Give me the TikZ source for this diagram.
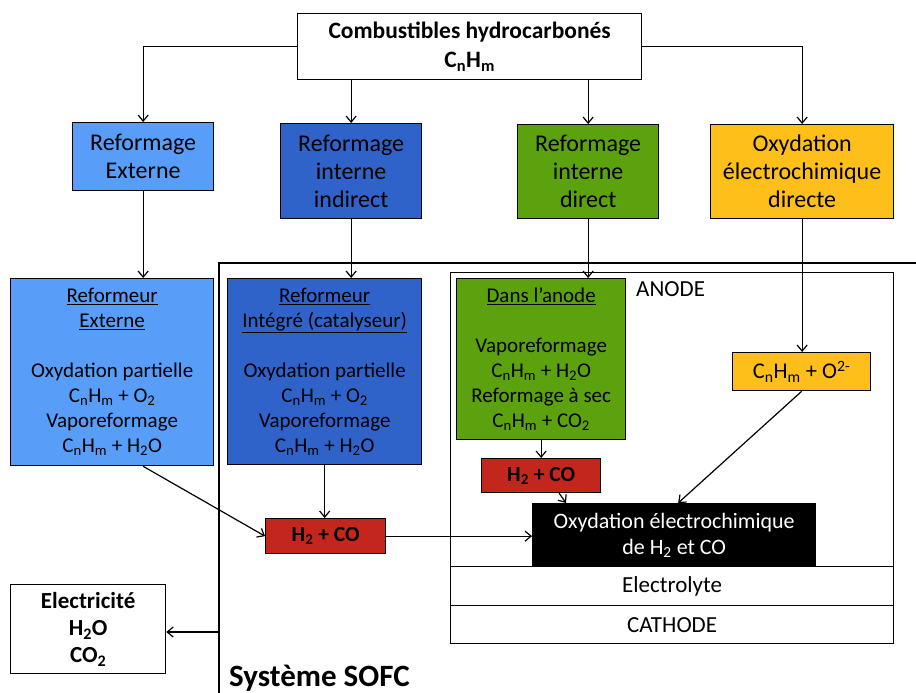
\documentclass[tikz,border=0pt]{standalone}
\usepackage{fontspec}
\setmainfont{Carlito}
\usetikzlibrary{arrows.meta,calc}
\definecolor{lblue}{RGB}{88,158,248}
\definecolor{dblue}{RGB}{47,99,201}
\definecolor{dgreen}{RGB}{91,162,14}
\definecolor{dyellow}{RGB}{255,191,26}
\definecolor{dred}{RGB}{195,38,28}
\newcommand\sbs[1]{\textsubscript{#1}}
\newcommand\sps[1]{\textsuperscript{#1}}
\begin{document}
\begin{tikzpicture}[x=1pt,y=-1pt,
  box/.style={draw=black, line width=1.3pt, anchor=north west, inner sep=0pt, align=center, text=black},
  bigtxt/.style={font=\fontsize{24}{28}\selectfont},
  midtxt/.style={font=\fontsize{21}{25}\selectfont},
  redbox/.style={box, fill=dred, font=\bfseries\fontsize{21.5}{24}\selectfont},
  arr/.style={-{Straight Barb[length=6pt,width=10pt]}, line width=1.2pt},
  frame/.style={line width=2.2pt}]
\useasboundingbox (0,0) rectangle (916,693);

% top
\node[box, minimum width=344pt, minimum height=66pt, font=\bfseries\fontsize{23.5}{29}\selectfont] (top) at (297,13)
  {Combustibles hydrocarbonés\\C\sbs{n}H\sbs{m}};

% row 1
\node[box, bigtxt, fill=lblue, minimum width=141pt, minimum height=68pt] (re) at (72,122) {Reformage\\Externe};
\node[box, bigtxt, fill=dblue, minimum width=141pt, minimum height=95pt] (ii) at (280,123) {Reformage\\interne\\indirect};
\node[box, bigtxt, fill=dgreen, minimum width=141pt, minimum height=94pt] (rd) at (517,124) {Reformage\\interne\\direct};
\node[box, bigtxt, fill=dyellow, minimum width=183pt, minimum height=94pt] (ox) at (710,124) {Oxydation\\électrochimique\\directe};

% SOFC frame
\coordinate (fl) at (219,263);
\coordinate (fr) at (916,263);
\coordinate (fb) at (219,693);
\coordinate (frameout) at (219,632);
\draw[frame] (fr) -- (fl) -- (fb);

% anode stack
\node[box, minimum width=443pt, minimum height=294pt] (anode) at (450,272) {};
\node[box, font=\fontsize{23}{27}\selectfont, minimum width=443pt, minimum height=39pt] (elec) at (450,566) {Electrolyte};
\node[box, font=\fontsize{23}{27}\selectfont, minimum width=443pt, minimum height=38pt] (cath) at (450,605) {CATHODE};
\node[anchor=north west, inner sep=0pt, font=\fontsize{23}{27}\selectfont] (anlab) at (636,281) {ANODE};

% row 2
\node[box, midtxt, fill=lblue, minimum width=203pt, minimum height=187pt] (rext) at (10,278)
  {\underline{Reformeur}\\\underline{Externe}\\[25pt]Oxydation partielle\\C\sbs{n}H\sbs{m} + O\sbs{2}\\Vaporeformage\\C\sbs{n}H\sbs{m} + H\sbs{2}O};
\node[box, midtxt, fill=dblue, minimum width=194pt, minimum height=186pt] (rint) at (227,278)
  {\underline{Reformeur}\\\underline{Intégré (catalyseur)}\\[25pt]Oxydation partielle\\C\sbs{n}H\sbs{m} + O\sbs{2}\\Vaporeformage\\C\sbs{n}H\sbs{m} + H\sbs{2}O};
\node[box, midtxt, fill=dgreen, minimum width=169pt, minimum height=161pt] (dan) at (456,278)
  {\underline{Dans l’anode}\\[25pt]Vaporeformage\\C\sbs{n}H\sbs{m} + H\sbs{2}O\\Reformage à sec\\C\sbs{n}H\sbs{m} + CO\sbs{2}};
\node[box, font=\fontsize{22.5}{26}\selectfont, fill=dyellow, minimum width=138pt, minimum height=38pt] (oxc) at (732,352)
  {C\sbs{n}H\sbs{m} + O\sps{2-}};

\node[redbox, minimum width=119pt, minimum height=34pt] (red2) at (481,458) {H\sbs{2} + CO};
\node[redbox, minimum width=120pt, minimum height=35pt] (red1) at (265,518) {H\sbs{2} + CO};
\node[box, fill=black, text=white, font=\fontsize{22}{26}\selectfont, minimum width=283pt, minimum height=63pt] (black) at (532,503)
  {Oxydation électrochimique\\de H\sbs{2} et CO};

\node[box, minimum width=155pt, minimum height=89pt, font=\bfseries\fontsize{23}{27}\selectfont] (elecout) at (10,584)
  {Electricité\\H\sbs{2}O\\CO\sbs{2}};

\node[anchor=base west, inner sep=0pt, font=\bfseries\fontsize{31}{36}\selectfont] (sys) at (229,686) {Système SOFC};

% connectors
\draw[arr] (top.west) -| (re.north);
\draw[arr] (top.east) -| (ox.north);
\draw[arr] (top.south -| ii.north) -- (ii.north);
\draw[arr] (top.south -| rd.north) -- (rd.north);
\draw[arr] (re.south) -- (re.south |- rext.north);
\draw[arr] (ii.south) -- (ii.south |- rint.north);
\draw[arr] (rd.south) -- (rd.south |- dan.north);
\draw[arr] (ox.south) -- (ox.south |- oxc.north);
\draw[arr] (re.south |- rext.south) -- (red1.west);
\draw[arr] (rint.south) -- (rint.south |- red1.north);
\draw[arr] (red1.east) -- (red1.east -| black.west);
\draw[arr] (dan.south) -- (dan.south |- red2.north);
\draw[arr] ($(red2.south)+(18,0)$) -- ($(black.north west)+(34,0)$);
\draw[arr] (oxc.south) -- ($(black.north)+(4,0)$);
\draw[arr] (frameout) -- (frameout -| elecout.east);
\end{tikzpicture}
\end{document}
